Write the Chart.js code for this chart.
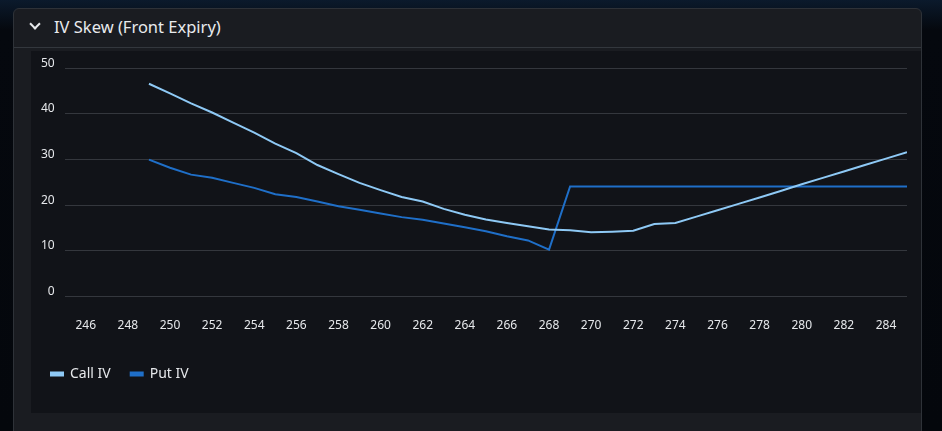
<!DOCTYPE html>
<html><head><meta charset="utf-8">
<script src="https://cdn.jsdelivr.net/npm/chart.js@4"></script>
<style>
html,body{margin:0;padding:0;width:942px;height:431px;overflow:hidden;background:linear-gradient(#0b1a2c 0px,#05080e 30px,#04070c 431px);font-family:"Noto Sans",sans-serif;}
.panel{position:absolute;left:13px;top:8px;width:907px;height:440px;background:#1a1c21;border:1px solid #2e3238;border-radius:6px;}
.hdr{height:38px;border-bottom:1px solid #33373d;color:#e8eaed;font-size:16.5px;line-height:36px;padding-left:40px;position:relative;}
.chev{position:absolute;left:17px;width:6px;height:6px;border-right:2px solid #e8eaed;border-bottom:2px solid #e8eaed;transform:rotate(45deg);top:11px;}
.box{position:absolute;left:17px;top:42px;width:890px;height:362px;background:#111318;}
</style></head><body>
<div class="panel"><div class="hdr"><span class="chev"></span>IV Skew (Front Expiry)</div>
<div class="box"><canvas id="c" width="890" height="362"></canvas></div></div>
<script>
const strikes=[249,250,251,252,253,254,255,256,257,258,259,260,261,262,263,264,265,266,267,268,269,270,271,272,273,274,275,276,277,278,279,280,281,282,283,284,285];
const callIV=[46.6,44.5,42.3,40.3,38.1,35.9,33.5,31.4,28.8,26.8,24.9,23.3,21.8,20.8,19.2,17.9,16.9,16.1,15.4,14.7,14.5,14.1,14.2,14.4,15.9,16.1,17.5,18.9,20.3,21.7,23.1,24.6,26.0,27.4,28.8,30.2,31.6];
const putIV=[30.0,28.2,26.7,26.0,24.9,23.8,22.4,21.8,20.8,19.8,19.0,18.2,17.4,16.8,16.0,15.2,14.3,13.2,12.3,10.3,24.1,24.1,24.1,24.1,24.1,24.1,24.1,24.1,24.1,24.1,24.1,24.1,24.1,24.1,24.1,24.1,24.1];
const xTicks=[246,248,250,252,254,256,258,260,262,264,266,268,270,272,274,276,278,280,282,284];
const xMin=245,xMax=285,yMin=0,yMax=50;
const toPts=a=>strikes.map((s,i)=>({x:s,y:a[i]}));
new Chart(document.getElementById('c'),{type:'line',
data:{datasets:[
{label:'Call IV',data:toPts(callIV),borderColor:'#8ec9f5',backgroundColor:'#8ec9f5',borderWidth:2,pointRadius:0,tension:0},
{label:'Put IV',data:toPts(putIV),borderColor:'#1f6fc8',backgroundColor:'#1f6fc8',borderWidth:2,pointRadius:0,tension:0}]},
options:{responsive:false,animation:false,
layout:{padding:{left:0,right:14,top:16,bottom:22}},
scales:{
x:{type:'linear',min:xMin,max:xMax,grid:{display:false},border:{display:false},
afterBuildTicks:ax=>{ax.ticks=xTicks.map(v=>({value:v}));},
ticks:{color:'#e6e8eb',font:{size:12,family:'Noto Sans'},padding:14}},
y:{min:yMin,max:yMax,grid:{color:'#34373d',drawTicks:false},border:{display:false},
ticks:{stepSize:10,color:'#e6e8eb',font:{size:12,family:'Noto Sans'},padding:10,labelOffset:-5}}},
plugins:{legend:{position:'bottom',align:'start',labels:{color:'#e6e8eb',font:{size:14,family:'Noto Sans'},boxWidth:12,boxHeight:3,padding:20}},tooltip:{enabled:false}}}});
</script></body></html>
